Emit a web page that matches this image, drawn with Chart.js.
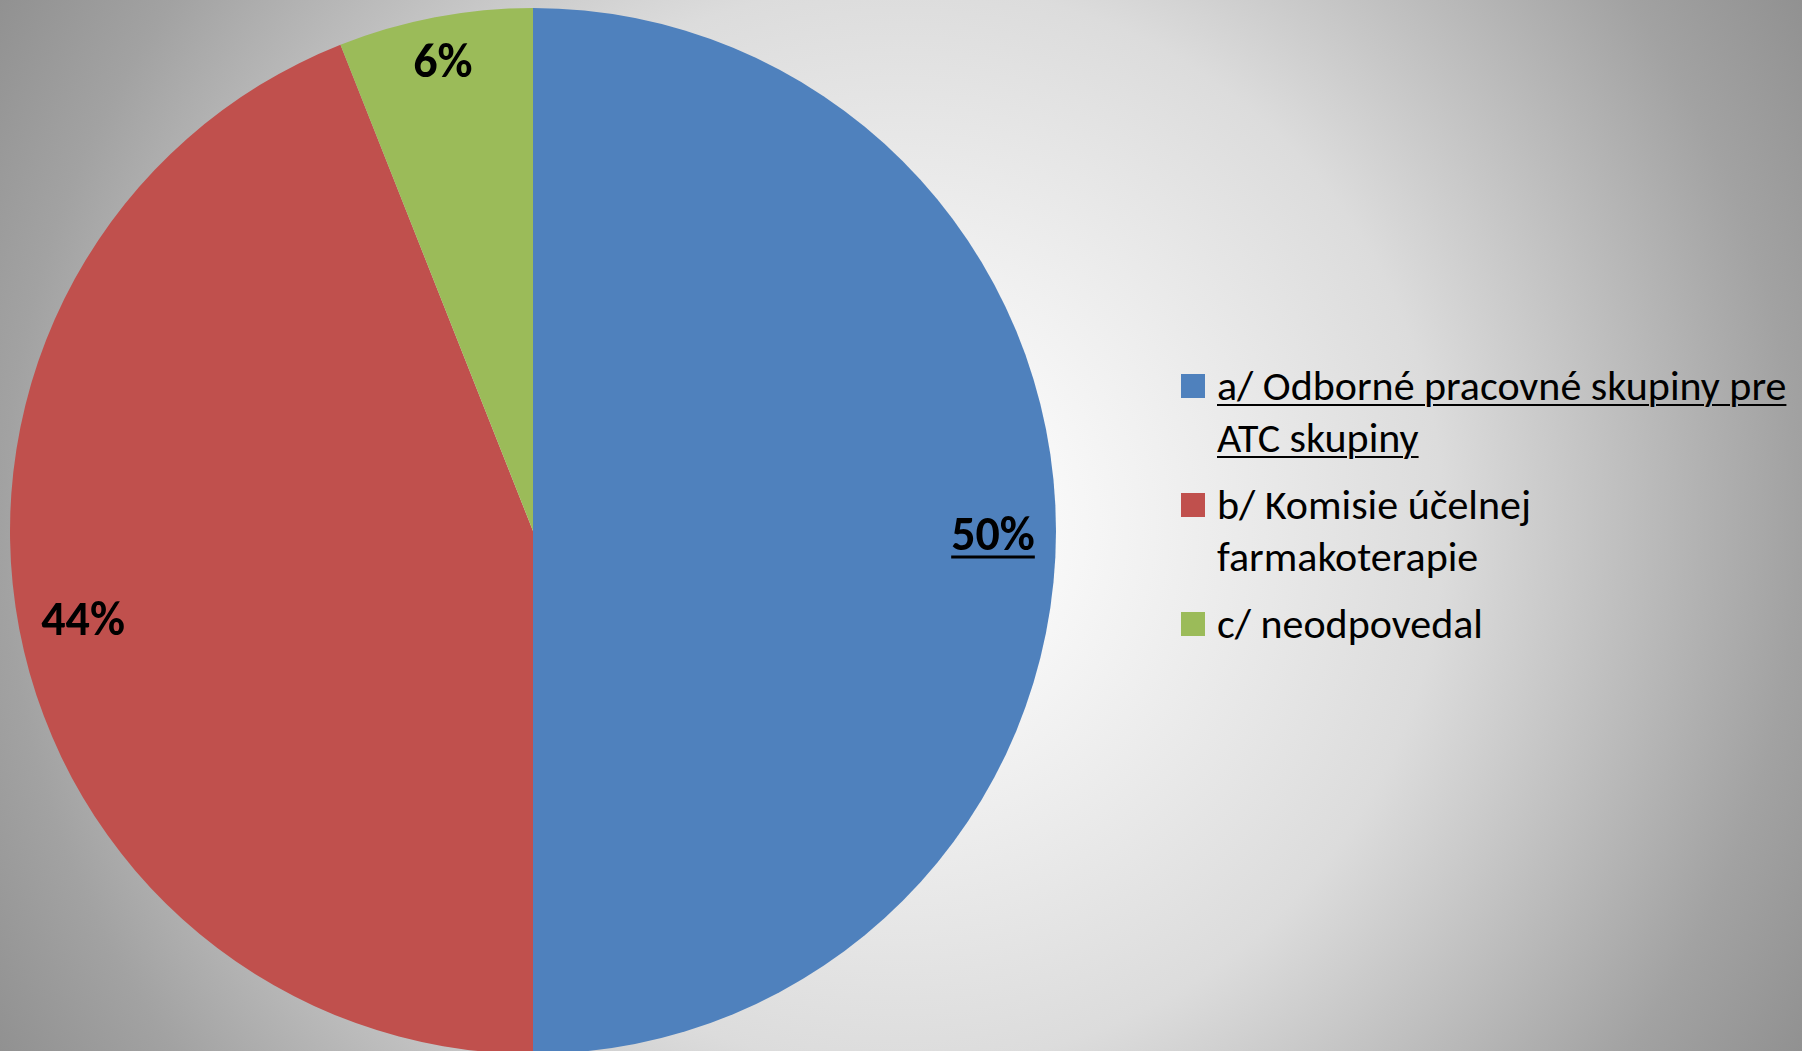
<!DOCTYPE html>
<html>
<head>
<meta charset="utf-8">
<script src="https://cdn.jsdelivr.net/npm/chart.js@4"></script>
<style>
  html, body { margin: 0; padding: 0; }
  body {
    width: 1802px; height: 1051px; overflow: hidden; position: relative;
    background: radial-gradient(circle 1043px at 901px 525px,
      #ffffff 0%, #f8f8f8 15%, #dcdcdc 52%, #a2a2a2 86%, #919191 100%);
    font-family: Carlito, Calibri, Lato, sans-serif;
  }
  #pieWrap { position: absolute; left: 10px; top: 8px; width: 1046px; height: 1046px; }
  #legend { position: absolute; left: 1181px; top: 360px; color: #000; }
  .item { display: flex; align-items: flex-start; margin-bottom: 16px; }
  .swatch { width: 24px; height: 24px; margin-top: 14px; margin-right: 12px; flex: none; }
  .text { font-size: 42px; line-height: 51.5px; white-space: nowrap; }
  .text.sel { text-decoration: underline; text-decoration-thickness: 2px; text-underline-offset: 4px; }
</style>
</head>
<body>
<div id="pieWrap"><canvas id="pieChart"></canvas></div>
<div id="legend"></div>
<script>
const categories = [
    ['a/ Odborné pracovné skupiny pre', 'ATC skupiny'],
    ['b/ Komisie účelnej', 'farmakoterapie'],
    ['c/ neodpovedal']
];
const shares = [50, 44, 6];
const valueLabels = ['50%', '44%', '6%'];
const sliceColors = ['#4F81BD', '#C0504D', '#9BBB59'];
const selectedIndex = 0; // the selected point is shown underlined

// legend, built from the same arrays
const legendEl = document.getElementById('legend');
categories.forEach((lines, idx) => {
    const item = document.createElement('div');
    item.className = 'item';
    const sw = document.createElement('div');
    sw.className = 'swatch';
    sw.style.background = sliceColors[idx];
    const txt = document.createElement('div');
    txt.className = 'text' + (idx === selectedIndex ? ' sel' : '');
    txt.innerHTML = lines.join('<br>');
    item.appendChild(sw);
    item.appendChild(txt);
    legendEl.appendChild(item);
});

// percentage labels placed inside the slice, as far out as they fit
const sliceLabels = {
    id: 'sliceLabels',
    afterDatasetsDraw(chart) {
        const ctx = chart.ctx;
        const meta = chart.getDatasetMeta(0);
        ctx.save();
        ctx.font = 'bold 48px Carlito, Calibri, Lato, sans-serif';
        ctx.fillStyle = '#000';
        ctx.textAlign = 'center';
        ctx.textBaseline = 'alphabetic';
        const h = 31; // cap height
        meta.data.forEach((arc, idx) => {
            const p = arc.getProps(['x', 'y', 'startAngle', 'endAngle', 'outerRadius'], true);
            const mid = (p.startAngle + p.endAngle) / 2;
            const w = ctx.measureText(valueLabels[idx]).width;
            const limit = p.outerRadius - 20;
            const cos = Math.cos(mid), sin = Math.sin(mid);
            let r = limit;
            for (; r > 0; r -= 1) {
                const fx = cos * r + Math.sign(cos || 1) * w / 2;
                const fy = sin * r + Math.sign(sin || 1) * h / 2;
                if (Math.hypot(fx, fy) <= limit) break;
            }
            const x = p.x + cos * r;
            const y = p.y + sin * r + 3;
            ctx.fillText(valueLabels[idx], x, y + h / 2);
            if (idx === selectedIndex) {
                ctx.fillRect(x - w / 2, y + h / 2 + 6, w, 3);
            }
        });
        ctx.restore();
    }
};

new Chart(document.getElementById('pieChart'), {
    type: 'pie',
    data: {
        labels: categories,
        datasets: [{
            data: shares,
            backgroundColor: sliceColors,
            borderWidth: 0
        }]
    },
    options: {
        responsive: true,
        maintainAspectRatio: false,
        animation: false,
        layout: { padding: 0 },
        plugins: {
            legend: { display: false },
            tooltip: { enabled: false }
        }
    },
    plugins: [sliceLabels]
});
</script>
</body>
</html>
